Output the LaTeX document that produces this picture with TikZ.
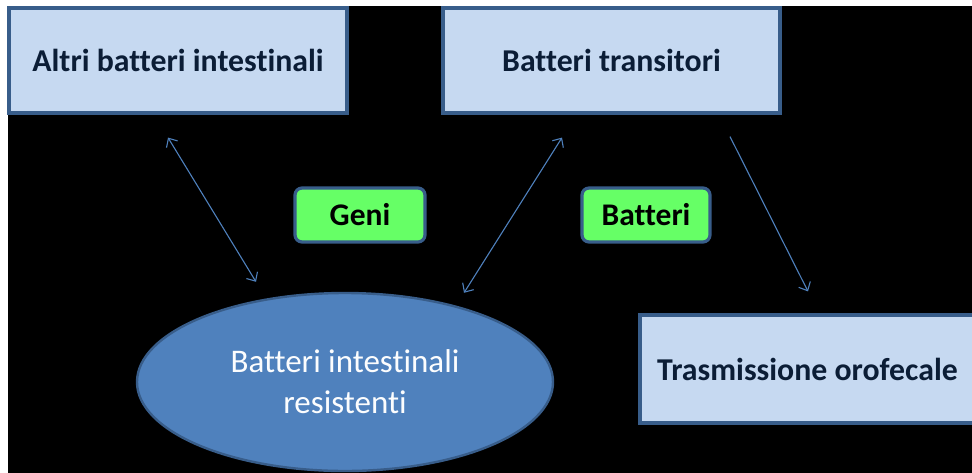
\documentclass[tikz,border=0pt]{standalone}
\usepackage{fontspec}
\setmainfont{Carlito}[RawFeature={-liga}]
\usetikzlibrary{shapes.geometric,arrows.meta,calc}
\definecolor{slideblack}{HTML}{000000}
\definecolor{boxfill}{HTML}{C6D9F1}
\definecolor{boxedge}{HTML}{385D8A}
\definecolor{ovalfill}{HTML}{4F81BD}
\definecolor{ovaledge}{HTML}{385D8A}
\definecolor{tagfill}{HTML}{66FF66}
\definecolor{linkblue}{HTML}{4F81BD}
\definecolor{boxtext}{HTML}{0B1D36}

\begin{document}
\begin{tikzpicture}[x=1pt,y=-1pt,>={Straight Barb[length=7pt,width=13pt]}]
  \tikzstyle{panel}=[draw=boxedge, line width=3.2pt, fill=boxfill, inner sep=0pt, align=center, font=\fontsize{31.8}{38}\selectfont\bfseries, text=boxtext]
  \tikzstyle{oval}=[ellipse, draw=ovaledge, line width=2.4pt, fill=ovalfill, inner sep=0pt, align=center, font=\fontsize{33}{41}\selectfont, text=white!94!boxfill]
  \tikzstyle{tag}=[draw=boxedge, line width=3.2pt, fill=tagfill, rounded corners=2.5mm, inner sep=0pt, font=\fontsize{31.5}{38}\selectfont\bfseries, text=black]
  \tikzstyle{link}=[draw=linkblue, line width=1.1pt]

  \path[use as bounding box] (0,0) rectangle (972,472);
  \fill[slideblack] (8,6) rectangle (980,480);

  \node[panel, minimum width=338pt, minimum height=105pt] (altri) at (178,60.5) {Altri batteri intestinali};
  \node[panel, minimum width=337pt, minimum height=105pt] (transitori) at (611.5,60.5) {Batteri transitori};
  \node[panel, minimum width=335pt, minimum height=108pt] (orofecale) at (807.5,369) {Trasmissione orofecale};
  \node[oval, minimum width=416pt, minimum height=178pt] (resistenti) at (345,382) {Batteri intestinali\\resistenti};
  \node[tag, minimum width=130pt, minimum height=54pt] (geni) at (360,215) {Geni};
  \node[tag, minimum width=128pt, minimum height=54pt] (batteri) at (646,215) {Batteri};

  \draw[link, <->] ($(altri.south)+(-10,23)$) -- ($(resistenti.north)+(-89,-10)$);
  \draw[link, <->] ($(resistenti.north)+(119,1)$) -- ($(transitori.south)+(-49.5,23)$);
  \draw[link, ->] ($(transitori.south)+(118.5,22)$) -- ($(orofecale.north)+(0.5,-22)$);
\end{tikzpicture}
\end{document}
